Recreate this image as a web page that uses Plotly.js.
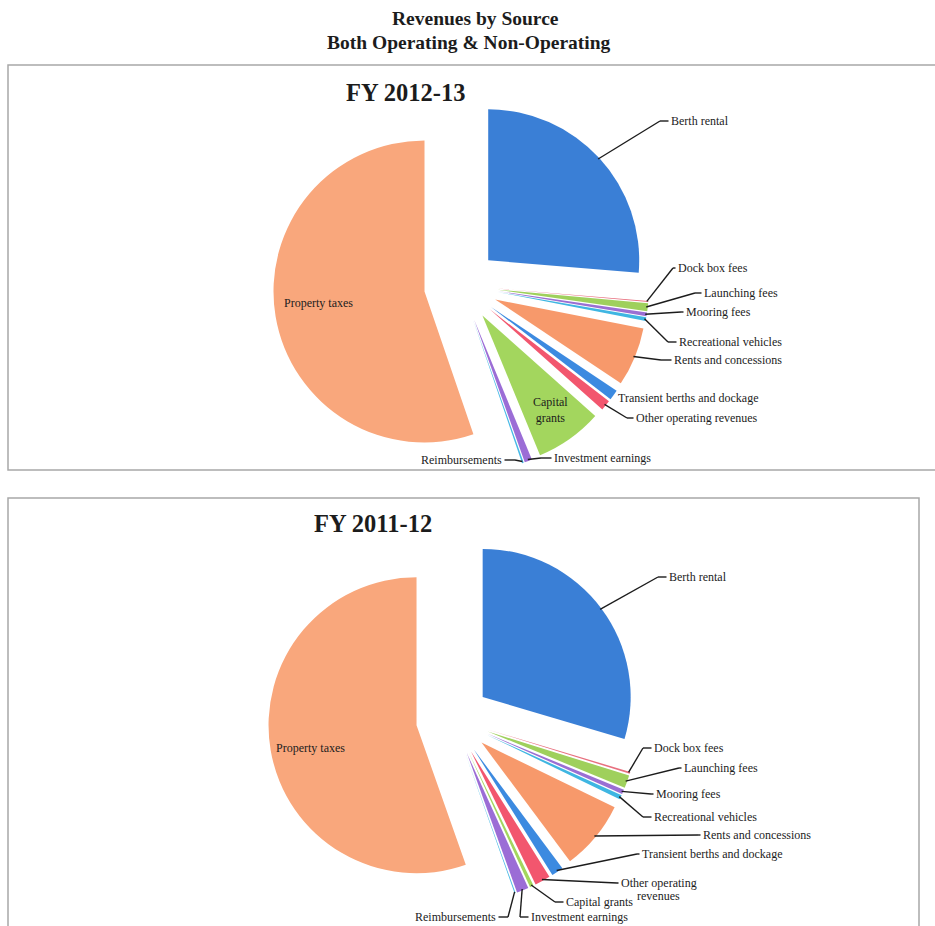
<!DOCTYPE html>
<html><head><meta charset="utf-8">
<script src="https://cdn.plot.ly/plotly-3.0.1.min.js"></script>
<style>html,body{margin:0;padding:0;background:#fff}#chart{width:935px;height:926px}</style>
</head><body><div id="chart"></div>
<script>
const W = 935, H = 926;

// ---- data (percent of total revenues) ----
const categories = ["Berth rental","Dock box fees","Launching fees","Mooring fees","Recreational vehicles","Rents and concessions","Transient berths and dockage","Other operating revenues","Capital grants","Investment earnings","Reimbursements","Property taxes"];
const share2013 = [26.3, 0.12, 0.85, 0.4, 0.4, 6.3, 1.1, 1.1, 7.2, 0.8, 0.18, 55.25];
const share2012 = [29.6, 0.2, 1.4, 0.5, 0.5, 7.6, 1.3, 1.7, 0.4, 1.3, 0.1, 55.4];
const panelTitles = ["FY 2012-13", "FY 2011-12"];
const mainTitle = ["Revenues by Source", "Both Operating & Non-Operating"];

// ---- styling ----
const sliceColors = ["#3a7fd6","#e8707f","#9fd05c","#9a6fd3","#3fb6e2","#f7996b","#3c8ae0","#f2566e","#a3d65e","#9b6dd6","#47b9e6","#f9a77c"];
const serif = "Liberation Serif, Times New Roman, serif";
const ink = "#1c1c1c";

const px = x => x / W;
const py = y => 1 - y / H;

const panels = [
  { values: share2013, pull: 0.245, domain: { x: [px(273), px(649)], y: [py(473.4), py(97.4)] } },
  { values: share2012, pull: 0.25,  domain: { x: [px(268), px(638)], y: [py(904), py(534)] } }
];

// label placement (layout only)
const labelLayout = [
  [
    {i:0, x:670, y:121, side:'left', gap:10},
    {i:1, x:677, y:268, side:'left', gap:4},
    {i:2, x:703, y:293, side:'left', gap:8},
    {i:3, x:685, y:312, side:'left', gap:4},
    {i:4, x:678, y:342, side:'left', gap:10},
    {i:5, x:673, y:360, side:'left', gap:12},
    {i:6, x:617, y:398, side:'left', leader:false},
    {i:7, x:635, y:418, side:'left', gap:8},
    {i:8, x:550, y:410, side:'center', leader:false, text:'Capital<br>grants'},
    {i:9, x:553, y:458, side:'left', gap:12},
    {i:10, x:503, y:460, side:'right', gap:12},
    {i:11, x:283, y:303, side:'left', leader:false}
  ],
  [
    {i:0, x:668, y:577, side:'left', gap:10},
    {i:1, x:653, y:748, side:'left', gap:10},
    {i:2, x:683, y:768, side:'left', gap:4},
    {i:3, x:655, y:794, side:'left', gap:4},
    {i:4, x:653, y:817, side:'left', gap:10},
    {i:5, x:702, y:835, side:'left', gap:4},
    {i:6, x:641, y:854, side:'left', gap:4},
    {i:7, x:620, y:883, side:'left', gap:3, text:'Other operating', extra:{text:'revenues', x:658, y:896}},
    {i:8, x:565, y:902, side:'left', gap:10},
    {i:9, x:530, y:917, side:'left', gap:10},
    {i:10, x:497, y:917, side:'right', gap:11},
    {i:11, x:275, y:748, side:'left', leader:false}
  ]
];

function pieGeom(p) {
  const dom = p.domain;
  const wpx = W * (dom.x[1] - dom.x[0]), hpx = H * (dom.y[1] - dom.y[0]);
  const r = Math.min(wpx, hpx) / 2 / (1 + p.pull);
  const cx = W * (dom.x[0] + dom.x[1]) / 2;
  const cy = H * (1 - (dom.y[0] + dom.y[1]) / 2);
  const total = p.values.reduce((a, b) => a + b, 0);
  let cum = 0;
  return p.values.map(v => {
    const mid = 2 * Math.PI * (cum + v / 2) / total;
    cum += v;
    const pcx = cx + p.pull * r * Math.sin(mid), pcy = cy - p.pull * r * Math.cos(mid);
    return { x: pcx + 0.99 * r * Math.sin(mid), y: pcy - 0.99 * r * Math.cos(mid) };
  });
}

const traces = panels.map(p => ({
  type: 'pie',
  labels: categories,
  values: p.values,
  sort: false,
  direction: 'clockwise',
  rotation: 0,
  pull: p.pull,
  domain: p.domain,
  marker: { colors: sliceColors, line: { width: 0 } },
  textinfo: 'none',
  hoverinfo: 'label+percent',
  showlegend: false
}));

const annotations = [];
const shapes = [];

// main title
annotations.push({ xref:'paper', yref:'paper', x: px(476), y: py(18), text: '<b>' + mainTitle[0] + '</b>', showarrow:false, xanchor:'center', yanchor:'middle', font:{family:serif, size:19.5, color:ink} });
annotations.push({ xref:'paper', yref:'paper', x: px(469), y: py(42), text: '<b>' + mainTitle[1] + '</b>', showarrow:false, xanchor:'center', yanchor:'middle', font:{family:serif, size:19.5, color:ink} });

// panel frames and titles
shapes.push({ type:'rect', xref:'paper', yref:'paper', x0: px(8), x1: px(945), y0: py(470), y1: py(65), line:{color:'#a8a8a8', width:1.5} });
shapes.push({ type:'rect', xref:'paper', yref:'paper', x0: px(8), x1: px(919), y0: py(935), y1: py(498), line:{color:'#a8a8a8', width:1.5} });
annotations.push({ xref:'paper', yref:'paper', x: px(406), y: py(92), text: '<b>' + panelTitles[0] + '</b>', showarrow:false, xanchor:'center', yanchor:'middle', font:{family:serif, size:24.5, color:ink} });
annotations.push({ xref:'paper', yref:'paper', x: px(373), y: py(523), text: '<b>' + panelTitles[1] + '</b>', showarrow:false, xanchor:'center', yanchor:'middle', font:{family:serif, size:24.5, color:ink} });

// slice labels with elbow leader lines anchored on the slices
panels.forEach((p, k) => {
  const geom = pieGeom(p);
  labelLayout[k].forEach(L => {
    const txt = L.text || categories[L.i];
    annotations.push({ xref:'paper', yref:'paper', x: px(L.x), y: py(L.y), text: txt, showarrow:false,
      xanchor: L.side === 'right' ? 'right' : (L.side === 'center' ? 'center' : 'left'), yanchor:'middle',
      align:'center', borderpad:0, font:{family:serif, size:12, color:ink} });
    if (L.extra) {
      annotations.push({ xref:'paper', yref:'paper', x: px(L.extra.x), y: py(L.extra.y), text: L.extra.text, showarrow:false,
        xanchor:'center', yanchor:'middle', borderpad:0, font:{family:serif, size:12, color:ink} });
    }
    if (L.leader === false) return;
    const a = geom[L.i];
    const ex = L.side === 'right' ? L.x + L.gap : L.x - L.gap;
    const endx = L.side === 'right' ? L.x + 1.5 : L.x - 1.5;
    const lineStyle = { color: ink, width: 1.4 };
    shapes.push({ type:'line', xref:'paper', yref:'paper', x0: px(a.x), y0: py(a.y), x1: px(ex), y1: py(L.y), line: lineStyle, layer:'above' });
    shapes.push({ type:'line', xref:'paper', yref:'paper', x0: px(ex), y0: py(L.y), x1: px(endx), y1: py(L.y), line: lineStyle, layer:'above' });
  });
});

const layout = {
  width: W, height: H,
  margin: { l:0, r:0, t:0, b:0 },
  paper_bgcolor: '#fff',
  showlegend: false,
  annotations, shapes
};

Plotly.newPlot('chart', traces, layout, { displayModeBar:false, staticPlot:true });
</script>
</body></html>
